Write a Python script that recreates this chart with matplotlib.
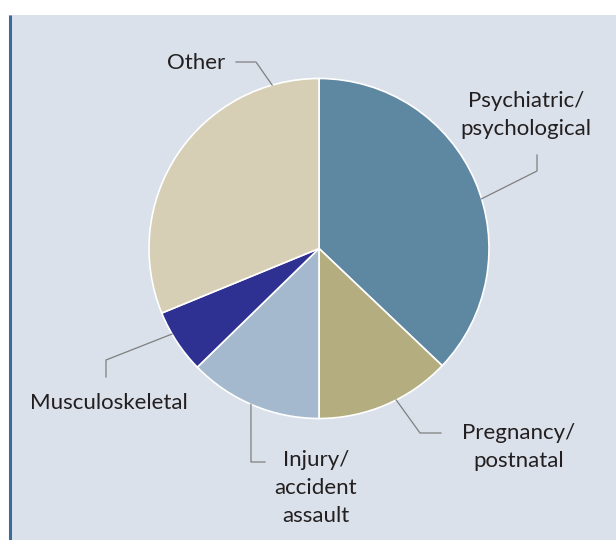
import numpy as np
import matplotlib
matplotlib.use("Agg")
import matplotlib.pyplot as plt
from matplotlib.patches import Rectangle

# dados (percentual por categoria, sentido horario a partir do topo)
categorias = ["Psychiatric/\npsychological", "Pregnancy/\npostnatal", "Injury/\naccident\nassault",
              "Musculoskeletal", "Other"]
valores = [37.1, 12.9, 12.7, 6.1, 31.2]
cores = ["#5e87a1", "#b3ad7f", "#a4b9cd", "#2e3192", "#d6cfb5"]

# angulo (graus, horario a partir do topo) onde a linha guia toca a fatia
ang_guia = [73, 153, 203.6, 239.8, 344]
# pontos da linha guia (cotovelo, fim) e posicao do texto, em pixels a partir do topo
cotovelos = [[(537, 171), (537, 155)],
             [(420, 433), (441, 433)],
             [(251, 462), (265, 462)],
             [(106, 360), (106, 377)],
             [(256, 62), (236, 62)]]
pos_texto = [(526, 115), (519, 447), (316, 488), (109, 403), (196, 63)]

W, H = 616, 540
fig = plt.figure(figsize=(W / 100, H / 100), dpi=100)
fig.patch.set_facecolor("#dae1ea")
ax = fig.add_axes([0, 0, 1, 1])

def py(y):
  return H - y

# faixa branca no topo, margem esquerda branca e borda azul
ax.add_patch(Rectangle((-10, py(15)), W + 20, 30, facecolor="white", edgecolor="none", zorder=0))
ax.add_patch(Rectangle((-10, -10), 18.5, H + 20, facecolor="white", edgecolor="none", zorder=0))
ax.plot([9.5, 9.5], [-5, py(15)], color="#41689a", lw=2.2, zorder=1, solid_capstyle="butt")

cx, cy, r = 319, py(248.5), 170
ax.pie(valores, colors=cores, startangle=90, counterclock=False, center=(cx, cy), radius=r,
       wedgeprops=dict(edgecolor="white", linewidth=1.2), frame=True)

for ang, pts, (tx, ty), lab in zip(ang_guia, cotovelos, pos_texto, categorias):
  t = np.deg2rad(90 - ang)
  x0, y0 = cx + r * np.cos(t), cy + r * np.sin(t)
  xs = [x0] + [p[0] for p in pts]
  ys = [y0] + [py(p[1]) for p in pts]
  ax.plot(xs, ys, color="#7f7f7f", lw=0.9, zorder=3)
  ax.text(tx, py(ty), lab, ha="center", va="center", fontsize=16, family="Lato",
          color="#231f20", linespacing=1.5)

ax.set_xlim(0, W)
ax.set_ylim(0, H)
ax.set_aspect("equal")
ax.axis("off")

fig.savefig("out.png", dpi=100, facecolor=fig.get_facecolor())
